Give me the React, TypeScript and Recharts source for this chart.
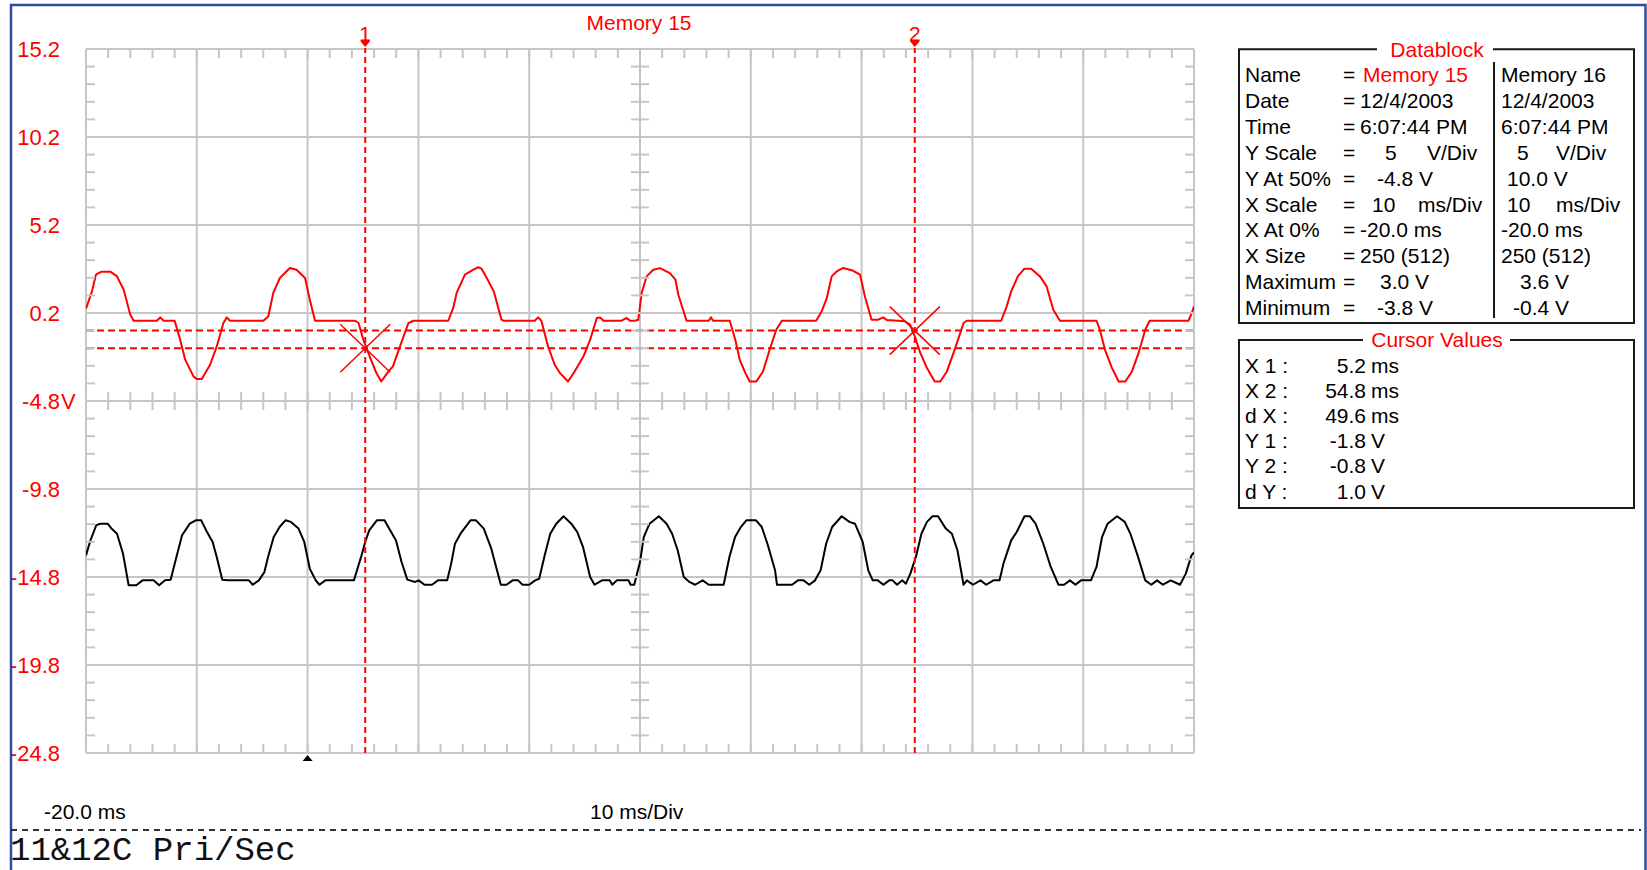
import { CartesianGrid, ComposedChart, Line, ReferenceDot, ReferenceLine, XAxis, YAxis } from "recharts";

// Memory 15 (red trace), time in ms / volts
const redTimes = [
  -20.0, -19.5, -19.1, -18.6, -17.8, -17.2, -16.6, -16.0, -15.7, -13.6, -13.3, -13.0, -12.0, -11.5, -11.05, -10.3,
  -10.0, -9.55, -8.8, -8.2, -7.6, -7.3, -7.0, -4.0, -3.55, -3.1, -2.5, -1.6, -1.0, -0.23, 0.2, 0.67, 4.28, 4.6, 5.03,
  5.6, 6.2, 6.65, 7.3, 7.7, 8.34, 9.1, 9.54, 12.7, 13.15, 13.45, 14.2, 14.96, 15.4, 15.7, 16.17, 16.8, 17.5, 17.67,
  20.5, 20.8, 21.1, 21.7, 22.3, 22.76, 23.5, 24.1, 24.9, 25.5, 26.1, 26.4, 26.7, 28.35, 28.8, 29.1, 29.55, 29.85,
  30.15, 30.6, 31.2, 31.8, 32.7, 33.2, 33.46, 34.2, 36.2, 36.4, 36.6, 38.1, 38.6, 39.0, 39.5, 39.9, 40.5, 41.1, 41.7,
  42.3, 42.8, 45.9, 46.4, 46.86, 47.3, 47.75, 48.35, 49.25, 49.86, 50.3, 50.9, 51.5, 51.96, 52.27, 53.9, 54.37, 54.8,
  55.3, 55.9, 56.6, 57.1, 57.7, 58.3, 58.9, 59.2, 59.5, 62.6, 63.1, 63.5, 64.1, 64.7, 65.3, 66.1, 66.7, 67.3, 67.9,
  71.2, 71.5, 71.97, 72.6, 73.2, 73.8, 74.4, 75.0, 75.6, 76.0, 79.5, 79.8, 80.0,
];
const redVolts = [
  0.45, 1.34, 2.38, 2.55, 2.55, 2.28, 1.52, 0.1, -0.24, -0.24, -0.05, -0.24, -0.24, -1.32, -2.45, -3.4,
  -3.55, -3.55, -2.74, -1.7, -0.37, -0.05, -0.24, -0.24, 0.0, 1.34, 2.19, 2.76, 2.66, 2.19, 0.96, -0.24, -0.24, -0.37, -1.32,
  -2.26, -3.2, -3.69, -3.12, -2.83, -1.7, -0.37, -0.24, -0.24, 0.5, 1.34, 2.38, 2.66, 2.8, 2.72, 2.19, 1.43, -0.18, -0.24,
  -0.24, -0.05, -0.24, -1.7, -2.74, -3.2, -3.69, -3.12, -2.26, -1.32, -0.08, -0.05, -0.24, -0.24, -0.08, -0.24, -0.24, -0.18,
  1.34, 2.28, 2.66, 2.75, 2.47, 2.09, 1.24, -0.24, -0.24, -0.05, -0.24, -0.24, -1.32, -2.45, -3.2, -3.69, -3.69, -3.12, -1.89,
  -0.75, -0.24, -0.24, 0.3, 1.05, 2.28, 2.56, 2.76, 2.6, 2.38, 1.14, -0.18, -0.18, -0.05, -0.2, -0.27, -0.46, -1.13,
  -2.07, -2.93, -3.69, -3.69, -3.12, -2.07, -0.94, -0.37, -0.24, -0.24, 0.58, 1.43, 2.28, 2.72, 2.72, 2.28, 1.71, 0.39, -0.24,
  -0.24, -0.75, -1.89, -2.93, -3.69, -3.69, -3.12, -2.07, -0.75, -0.24, -0.24, 0.2, 0.58,
];

// Memory 16 (black trace)
const blackTimes = [
  -20.0, -19.6, -19.07, -18.7, -18.04, -17.7, -17.2, -16.66, -16.15, -15.46, -14.9, -13.9, -13.4, -12.87, -12.36, -11.84,
  -11.33, -10.63, -10.1, -9.6, -9.08, -8.57, -8.2, -7.7, -7.2, -5.3, -4.95, -4.4, -3.9, -3.57, -3.06, -2.53, -2.0, -1.5,
  -0.82, -0.3, 0.2, 0.73, 1.07, 1.6, 4.18, 4.87, 5.2, 5.56, 6.25, 6.94, 7.45, 7.98, 8.48, 9.0, 9.7, 10.03, 10.55, 11.23,
  11.76, 12.6, 12.96, 13.3, 13.8, 14.7, 15.2, 15.9, 16.58, 17.44, 17.95, 18.5, 19.0, 19.4, 20.0, 20.54, 20.9, 21.4, 21.9,
  22.44, 23.1, 23.8, 24.33, 24.86, 25.5, 25.9, 26.57, 27.26, 27.5, 27.9, 28.97, 29.15, 29.48, 30.0, 30.34, 30.86, 31.7,
  32.4, 32.9, 33.4, 33.95, 34.46, 34.97, 35.66, 36.2, 37.55, 38.07, 38.58, 39.1, 39.6, 40.47, 40.99, 41.5, 42.19, 42.36,
  43.73, 44.25, 44.76, 45.28, 45.8, 46.3, 46.8, 47.34, 48.2, 48.9, 49.4, 50.1, 50.6, 51.0, 51.46, 51.97, 52.49, 52.8, 53.2,
  53.67, 54.0, 54.4, 54.9, 55.4, 55.9, 56.4, 56.9, 57.6, 58.15, 58.65, 59.2, 59.5, 60.05, 60.73, 61.25, 61.9, 62.45, 62.8,
  63.5, 64.0, 64.7, 65.2, 65.7, 66.4, 67.07, 67.77, 68.28, 68.8, 69.3, 69.8, 70.7, 71.2, 71.7, 72.2, 73.06, 73.75, 74.26,
  74.95, 75.6, 76.15, 76.66, 77.2, 77.9, 78.74, 79.26, 79.77, 80.0,
];
const blackVolts = [
  1.23, 2.08, 2.94, 3.03, 3.03, 2.75, 2.46, 1.33, -0.47, -0.47, -0.19, -0.19, -0.47, -0.19, -0.15, 1.14,
  2.37, 3.03, 3.22, 3.22, 2.56, 1.99, 1.14, -0.15, -0.19, -0.19, -0.44, -0.19, 0.28, 1.14, 2.27, 2.84, 3.22, 3.13,
  2.75, 1.99, 0.47, -0.19, -0.44, -0.19, -0.19, 1.23, 1.99, 2.65, 3.22, 3.22, 2.65, 2.08, 0.85, -0.15, -0.28, -0.19, -0.44, -0.44,
  -0.19, -0.19, 0.76, 1.89, 2.46, 3.22, 3.22, 2.75, 1.61, -0.44, -0.44, -0.19, -0.19, -0.44, -0.44, -0.19, -0.1, 1.23, 2.46,
  3.03, 3.45, 3.03, 2.56, 1.7, 0.0, -0.44, -0.19, -0.19, -0.44, -0.19, -0.19, -0.44, -0.44, 0.85, 2.27, 3.03, 3.45,
  3.03, 2.46, 1.52, 0.0, -0.28, -0.44, -0.19, -0.44, -0.44, 1.14, 2.27, 2.84, 3.22, 3.22, 2.84, 1.89, 0.38, -0.44,
  -0.44, -0.19, -0.19, -0.44, -0.19, 0.38, 1.89, 2.84, 3.45, 3.13, 3.03, 1.99, 0.38, -0.19, -0.19, -0.44, -0.19, -0.19, -0.44,
  -0.19, -0.38, 0.19, 1.14, 2.46, 3.13, 3.45, 3.45, 2.75, 2.46, 1.52, -0.44, -0.19, -0.44, -0.19, -0.44, -0.19, -0.19, 0.76,
  2.08, 2.56, 3.45, 3.45, 3.03, 1.89, 0.57, -0.44, -0.44, -0.19, -0.44, -0.19, -0.19, 0.57, 2.27, 3.03, 3.45, 3.13, 2.46,
  1.14, -0.19, -0.44, -0.19, -0.44, -0.19, -0.44, 0.19, 1.23, 1.4,
];

const xMajor = [-20, -10, 0, 10, 20, 30, 40, 50, 60, 70, 80];
const yMajor = [15.2, 10.2, 5.2, 0.2, -4.8, -9.8, -14.8, -19.8, -24.8];
const yTickLabels = ["15.2", "10.2", "5.2", "0.2", "-4.8", "-9.8", "-14.8", "-19.8", "-24.8"];

const cursorTimes = [5.2, 54.8];
const cursorVolts = [-1.8, -0.8];
const cursorNames = ["1", "2"];

const dbNames = ["Name", "Date", "Time", "Y Scale", "Y At 50%", "X Scale", "X At 0%", "X Size", "Maximum", "Minimum"];
const dbMem15 = [["Memory 15"], ["12/4/2003"], ["6:07:44 PM"], ["5", "V/Div"], ["-4.8 V"], ["10", "ms/Div"], ["-20.0 ms"], ["250 (512)"], ["3.0 V"], ["-3.8 V"]];
const dbMem16 = [["Memory 16"], ["12/4/2003"], ["6:07:44 PM"], ["5", "V/Div"], ["10.0 V"], ["10", "ms/Div"], ["-20.0 ms"], ["250 (512)"], ["3.6 V"], ["-0.4 V"]];

const cvNames = ["X 1 :", "X 2 :", "d X :", "Y 1 :", "Y 2 :", "d Y :"];
const cvNumbers = ["5.2", "54.8", "49.6", "-1.8", "-0.8", "1.0"];
const cvUnits = ["ms", "ms", "ms", "V", "V", "V"];

const RED = "#ff0000";
const GRID = "#c6c6c6";
const FONT = "'Liberation Sans', Arial, sans-serif";
const MONO = "'Liberation Mono', 'Courier New', monospace";
const LABEL_RIGHT = 60; // right edge of the volt labels

const redData = redTimes.map((t, i) => ({ t, v: redVolts[i] }));
const blackData = blackTimes.map((t, i) => ({ t, v: blackVolts[i] }));

// minor division marks, 5 per division
const xMinor = Array.from({ length: 51 }, (_, i) => -20 + 2 * i);
const yMinor = Array.from({ length: 41 }, (_, i) => Math.round((15.2 - i) * 10) / 10);

function RedTick(props: any) {
  const { y, payload } = props;
  const idx = yMajor.indexOf(payload.value);
  const label = idx >= 0 ? yTickLabels[idx] : String(payload.value);
  return (
    <g>
      <text x={LABEL_RIGHT} y={y} textAnchor="end" dominantBaseline="central" fill={RED} fontSize={22} fontFamily={FONT}>
        {label}
      </text>
      {payload.value === -4.8 && (
        <text x={LABEL_RIGHT + 1} y={y} textAnchor="start" dominantBaseline="central" fill={RED} fontSize={22} fontFamily={FONT}>
          V
        </text>
      )}
    </g>
  );
}

const mark = (dx1: number, dy1: number, dx2: number, dy2: number) => (p: any) => (
  <line x1={p.cx + dx1} y1={p.cy + dy1} x2={p.cx + dx2} y2={p.cy + dy2} stroke={GRID} strokeWidth={2} />
);

const crossShape = (p: any) => (
  <g stroke={RED} strokeWidth={1.5}>
    <line x1={p.cx - 25} y1={p.cy - 24} x2={p.cx + 25} y2={p.cy + 24} />
    <line x1={p.cx - 25} y1={p.cy + 24} x2={p.cx + 25} y2={p.cy - 24} />
  </g>
);

const cursorTag = (name: string) => (p: any) => (
  <g>
    <line x1={p.cx} y1={p.cy - 8} x2={p.cx} y2={p.cy} stroke={RED} strokeWidth={2} strokeDasharray="4 3" />
    <polygon points={`${p.cx - 5},${p.cy - 8} ${p.cx + 5},${p.cy - 8} ${p.cx},${p.cy - 2}`} fill={RED} />
    <text x={p.cx} y={p.cy - 16} textAnchor="middle" dominantBaseline="central" fill={RED} fontSize={21} fontFamily={FONT}>
      {name}
    </text>
  </g>
);

const triggerShape = (p: any) => (
  <polygon points={`${p.cx},${p.cy + 2} ${p.cx - 5},${p.cy + 8} ${p.cx + 5},${p.cy + 8}`} fill="#000" />
);

function Panels() {
  const dbRow = (i: number) => 74.5 + i * 25.9;
  const c1x = [[1363], [1360], [1360], [1385, 1427], [1377], [1372, 1418], [1360], [1360], [1380], [1377]];
  const c2x = [[1501], [1501], [1501], [1517, 1556], [1507], [1507, 1556], [1501], [1501], [1520], [1513]];
  const cvRow = (i: number) => 365.5 + i * 25.1;
  return (
    <svg width={1647} height={870} style={{ position: "absolute", left: 0, top: 0, pointerEvents: "none" }}>
      <path d="M11,870 V5 H1645.5 V870" fill="none" stroke="#2b4c9f" strokeWidth={2.5} />
      <text x={639} y={22} textAnchor="middle" dominantBaseline="central" fill={RED} fontSize={21} fontFamily={FONT}>
        Memory 15
      </text>

      {/* Datablock */}
      <path d="M1377,49.3 H1239 V323 H1634 V49.3 H1493" fill="none" stroke="#1a1a1a" strokeWidth={2} />
      <text x={1437} y={49} textAnchor="middle" dominantBaseline="central" fill={RED} fontSize={21} fontFamily={FONT}>
        Datablock
      </text>
      <line x1={1494} y1={62} x2={1494} y2={318} stroke="#1a1a1a" strokeWidth={2} />
      <g fontSize={21} fontFamily={FONT} fill="#000" dominantBaseline="central">
        {dbNames.map((n, i) => (
          <g key={n}>
            <text x={1245} y={dbRow(i)}>{n}</text>
            <text x={1343} y={dbRow(i)}>=</text>
            {dbMem15[i].map((s, j) => (
              <text key={"a" + j} x={c1x[i][j]} y={dbRow(i)} fill={i === 0 ? RED : "#000"}>
                {s}
              </text>
            ))}
            {dbMem16[i].map((s, j) => (
              <text key={"b" + j} x={c2x[i][j]} y={dbRow(i)}>
                {s}
              </text>
            ))}
          </g>
        ))}
      </g>

      {/* Cursor values */}
      <path d="M1363,340 H1239 V508 H1634 V340 H1510" fill="none" stroke="#1a1a1a" strokeWidth={2} />
      <text x={1437} y={339} textAnchor="middle" dominantBaseline="central" fill={RED} fontSize={21} fontFamily={FONT}>
        Cursor Values
      </text>
      <g fontSize={21} fontFamily={FONT} fill="#000" dominantBaseline="central">
        {cvNames.map((n, i) => (
          <g key={n}>
            <text x={1245} y={cvRow(i)}>{n}</text>
            <text x={1366} y={cvRow(i)} textAnchor="end">{cvNumbers[i]}</text>
            <text x={1371} y={cvRow(i)}>{cvUnits[i]}</text>
          </g>
        ))}
      </g>

      {/* footer */}
      <text x={44} y={811} dominantBaseline="central" fill="#000" fontSize={21} fontFamily={FONT}>
        -20.0 ms
      </text>
      <text x={590} y={811} dominantBaseline="central" fill="#000" fontSize={21} fontFamily={FONT}>
        10 ms/Div
      </text>
      <line x1={11} y1={830} x2={1641} y2={830} stroke="#333" strokeWidth={2} strokeDasharray="6 5" />
      <text x={10} y={860} fill="#111" fontSize={34} fontFamily={MONO}>
        11&amp;12C Pri/Sec
      </text>
    </svg>
  );
}

export default function App() {
  return (
    <div style={{ position: "absolute", left: 0, top: 0, width: 1647, height: 870, background: "#fff" }}>
      <ComposedChart width={1647} height={870} margin={{ top: 49, right: 453, bottom: 117, left: 6 }}>
        <XAxis dataKey="t" type="number" domain={[-20, 80]} ticks={xMajor} allowDataOverflow hide />
        <YAxis
          yAxisId="r"
          type="number"
          domain={[-24.8, 15.2]}
          ticks={yMajor}
          interval={0}
          width={80}
          axisLine={false}
          tickLine={false}
          tickSize={0}
          tickMargin={26}
          tick={<RedTick />}
          allowDataOverflow
        />
        <YAxis yAxisId="b" type="number" domain={[-10, 30]} hide allowDataOverflow />
        <CartesianGrid
          yAxisId="r"
          stroke={GRID}
          strokeWidth={2}
          horizontalValues={yMajor}
          verticalValues={xMajor}
        />

        {xMinor.map((t) => (
          <ReferenceDot key={"top" + t} yAxisId="r" x={t} y={15.2} ifOverflow="visible" shape={mark(0, 0, 0, 9)} />
        ))}
        {xMinor.map((t) => (
          <ReferenceDot key={"bot" + t} yAxisId="r" x={t} y={-24.8} ifOverflow="visible" shape={mark(0, -9, 0, 0)} />
        ))}
        {xMinor.map((t) => (
          <ReferenceDot key={"mid" + t} yAxisId="r" x={t} y={-4.8} ifOverflow="visible" shape={mark(0, -9, 0, 9)} />
        ))}
        {yMinor.map((v) => (
          <ReferenceDot key={"l" + v} yAxisId="r" x={-20} y={v} ifOverflow="visible" shape={mark(0, 0, 9, 0)} />
        ))}
        {yMinor.map((v) => (
          <ReferenceDot key={"r" + v} yAxisId="r" x={80} y={v} ifOverflow="visible" shape={mark(-9, 0, 0, 0)} />
        ))}
        {yMinor.map((v) => (
          <ReferenceDot key={"c" + v} yAxisId="r" x={30} y={v} ifOverflow="visible" shape={mark(-9, 0, 9, 0)} />
        ))}

        <Line
          yAxisId="r"
          data={redData}
          dataKey="v"
          type="linear"
          dot={false}
          stroke={RED}
          strokeWidth={2}
          strokeLinejoin="round"
          isAnimationActive={false}
        />
        <Line
          yAxisId="b"
          data={blackData}
          dataKey="v"
          type="linear"
          dot={false}
          stroke="#000"
          strokeWidth={2}
          strokeLinejoin="round"
          isAnimationActive={false}
        />

        {cursorVolts.map((v) => (
          <ReferenceLine key={"hy" + v} yAxisId="r" y={v} stroke={RED} strokeWidth={2} strokeDasharray="7 4" />
        ))}
        {cursorTimes.map((t) => (
          <ReferenceLine key={"vx" + t} yAxisId="r" x={t} stroke={RED} strokeWidth={2} strokeDasharray="6 4" />
        ))}
        {cursorTimes.map((t, i) => (
          <ReferenceDot key={"tag" + t} yAxisId="r" x={t} y={15.2} ifOverflow="visible" shape={cursorTag(cursorNames[i])} />
        ))}
        {cursorTimes.map((t, i) => (
          <ReferenceDot key={"x" + t} yAxisId="r" x={t} y={cursorVolts[i]} ifOverflow="visible" shape={crossShape} />
        ))}
        <ReferenceDot yAxisId="r" x={0} y={-24.8} ifOverflow="visible" shape={triggerShape} />
      </ComposedChart>
      <Panels />
    </div>
  );
}
